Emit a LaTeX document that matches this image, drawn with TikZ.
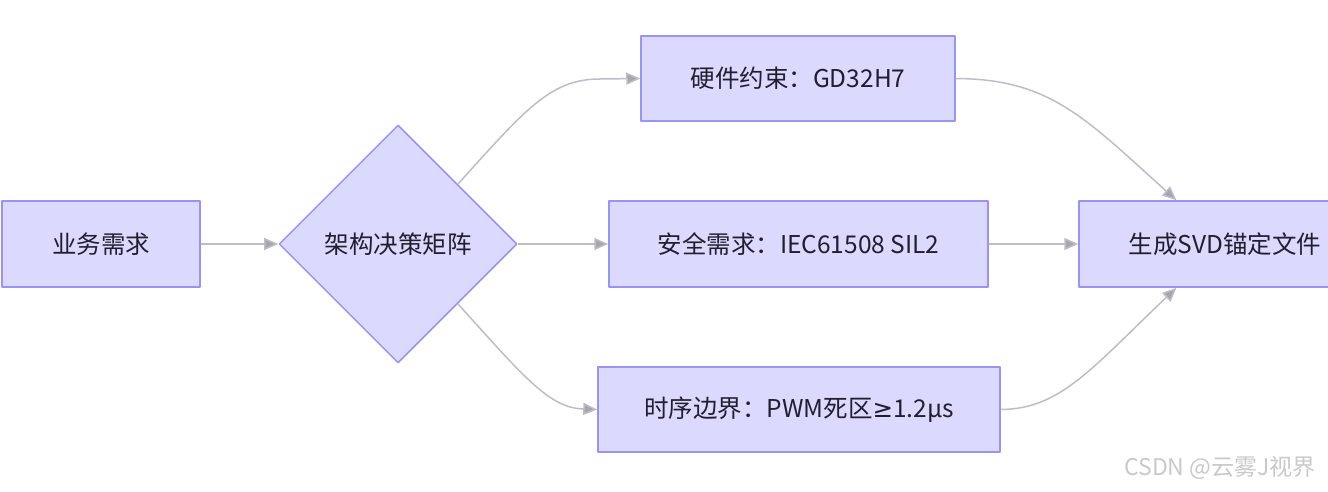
\documentclass[tikz,border=0pt]{standalone}
\usepackage{fontspec}
\setmainfont{Noto Sans CJK SC}
\newfontfamily\symbolfont{DejaVu Sans}
\usetikzlibrary{arrows.meta,shapes.geometric}
\definecolor{mmFill}{HTML}{DCD9FF}
\definecolor{mmLine}{HTML}{9A93F6}
\definecolor{mmEdge}{HTML}{BDBDC6}
\definecolor{mmInk}{HTML}{1F1F2E}
\definecolor{mmMark}{HTML}{C9C9C9}
\newcommand{\atleast}{{\symbolfont ≥}}
\tikzset{
 flowchart/.style={x=1pt,y=-1pt,line join=round,
   font=\fontsize{24.5}{29}\selectfont,text=mmInk},
 proc/.style={rectangle,draw=mmLine,fill=mmFill,line width=1.5pt,
   inner sep=0pt,minimum height=86pt},
 decide/.style={diamond,aspect=1,draw=mmLine,fill=mmFill,line width=1.5pt,
   inner sep=0pt,minimum width=238pt,minimum height=238pt},
 link/.style={draw=mmEdge,line width=1.5pt,
   -{Triangle[length=14pt,width=12pt,fill=mmEdge!88!black]}},
 watermark/.style={font=\fontsize{23}{27}\selectfont,text=mmMark,anchor=center}
}

\begin{document}
\begin{tikzpicture}[flowchart]
 \path[use as bounding box,clip] (0,0) rectangle (1328,492);
 % nodes
 \node[proc,minimum width=198pt] (need) at (101,244) {业务需求};
 \node[decide] (matrix) at (398,244) {架构决策矩阵};
 \node[proc,minimum width=314pt,minimum height=85pt] (hw) at (798,78.5) {硬件约束：GD32H7};
 \node[proc,minimum width=379pt] (safe) at (798.5,244) {安全需求：IEC61508 SIL2};
 \node[proc,minimum width=402pt,minimum height=85pt] (timing) at (799,409.5) {时序边界：PWM死区\atleast1.2μs};
 \node[proc,minimum width=292pt] (svd) at (1225,244) {生成SVD锚定文件};
 % links
 \draw[link] (need) -- (matrix);
 \draw[link] (matrix.north east) .. controls (525,110) and (550,79) .. (600,79) -- (hw.west);
 \draw[link] (matrix.east) -- (safe.west);
 \draw[link] (matrix.south east) .. controls (525,378) and (550,409) .. (585,409) -- (timing.west);
 \draw[link] (hw.east) .. controls (1050,79) and (1085,118) .. (svd.138);
 \draw[link] (safe.east) -- (svd.west);
 \draw[link] (timing.east) .. controls (1060,409) and (1090,370) .. (svd.-138);
 \node[watermark] (tag) at (1220,468) {CSDN @云雾J视界};
\end{tikzpicture}
\end{document}
